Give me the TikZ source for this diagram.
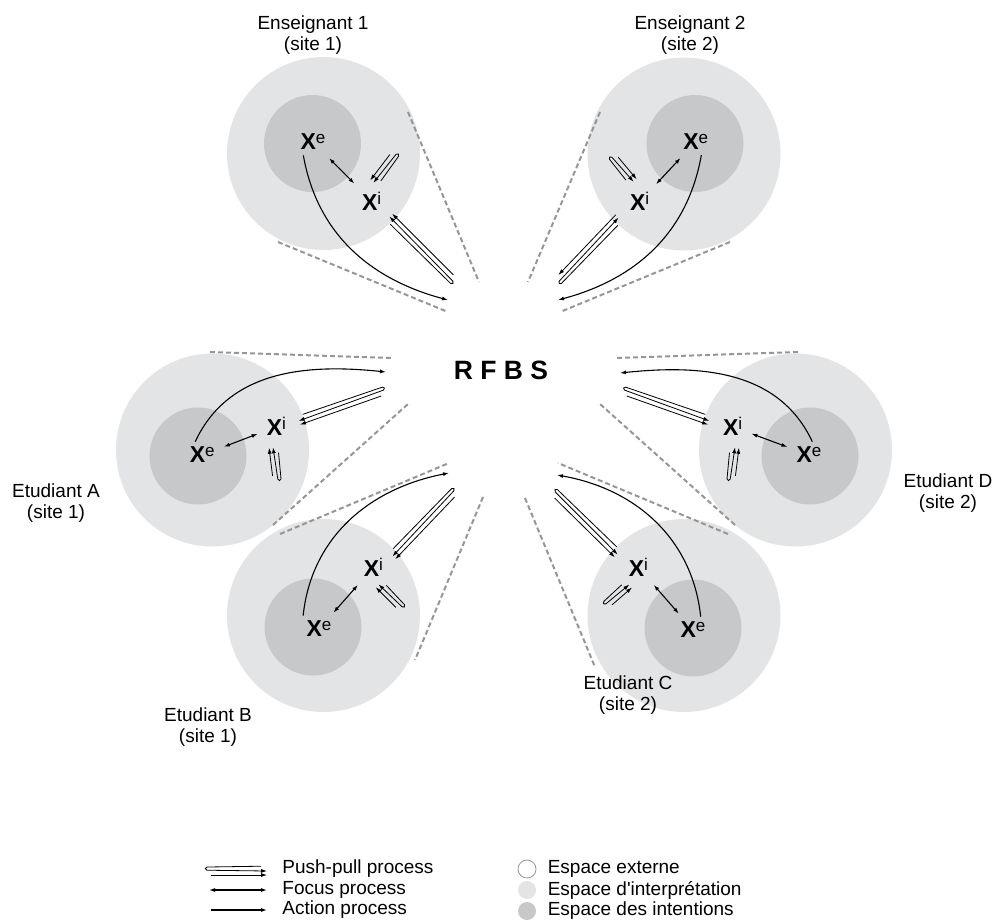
\documentclass[tikz,border=0pt]{standalone}
\usepackage{fontspec}
\setmainfont{Liberation Sans}
\usetikzlibrary{arrows.meta,positioning,calc}

\definecolor{interp}{RGB}{227,228,230}
\definecolor{intent}{RGB}{199,200,202}
\definecolor{conegray}{RGB}{150,150,150}

% X with a small raised letter
\newcommand{\Xs}[1]{{\bfseries X}\raisebox{3pt}{\fontsize{8.5}{9}\selectfont #1}}

% push-pull glyph: #1 loop end, #2 arrow end, #3 side (90 or -90), #4 tip of the straight line
\newcommand{\pushpull}[4]{%
  \coordinate (pp-u) at ($(#1)!1pt!(#2)-(#1)$);
  \coordinate (pp-m) at ($(#1)!1pt!#3:(#2)-(#1)$);
  \draw[pp line,->] ($(#2)+1.4*(pp-m)-3*(pp-u)$) -- ($(#1)+1.0*(pp-m)$)
    .. controls ($(#1)+1.0*(pp-m)-1.1*(pp-u)$) and ($(#1)-0.6*(pp-m)-1.1*(pp-u)$) .. ($(#1)-0.6*(pp-m)$)
    -- ($(#2)-1.0*(pp-m)$);
  \draw[pp line,#4] ($(#1)-3.0*(pp-m)+2*(pp-u)$) -- ($(#2)-3.0*(pp-m)$);
}

\begin{document}
\begin{tikzpicture}[x=0.5pt,y=-0.5pt,>={Latex[length=3pt,width=2pt]},
    outer/.style={circle,fill=interp,minimum size=96.5pt,inner sep=0pt},
    inner/.style={circle,fill=intent,minimum size=48.5pt,inner sep=0pt},
    xlab/.style={font=\fontsize{11.5}{12}\selectfont,inner sep=2.5pt},
    who/.style={align=center,font=\fontsize{9.5}{10.5}\selectfont},
    cone/.style={draw=conegray,line width=1pt,dash pattern=on 2.5pt off 1.5pt},
    action/.style={->,line width=0.55pt},
    focus/.style={<->,line width=0.55pt,shorten <=2pt,shorten >=2pt},
    pp line/.style={line width=0.4pt},
    legtext/.style={font=\fontsize{9.5}{10.5}\selectfont,inner sep=0pt}]
    \useasboundingbox (0,0) rectangle (995,923);

    % Enseignant 1
    \node[outer] (ens1out) at (323.5,153.5) {};
    \node[inner] (ens1in) at (312.5,143.5) {};
    \node[xlab] (ens1xe) at (313,142) {\Xs{e}};
    \node[xlab] (ens1xi) at (371.7,201) {\Xs{i}};
    \node[who] (ens1lab) at (313,35) {Enseignant 1\\(site 1)};
    \coordinate (ens1act) at (448,300);
    \coordinate (ens1ppa) at (397,155);
    \coordinate (ens1ppb) at (375,184);
    \coordinate (ens1ppc) at (452,282);
    \coordinate (ens1ppd) at (388,218);
    \draw[cone] (408,112) -- (479,282);
    \draw[cone] (278,242) -- (448,312);
    \draw[focus] (ens1xe) -- (ens1xi);
    \draw[action] (ens1xe.-126) to[out=-80,in=165] (ens1act);
    \pushpull{ens1ppa}{ens1ppb}{90}{->}
    \pushpull{ens1ppc}{ens1ppd}{90}{->}

    % Enseignant 2
    \node[outer] (ens2out) at (684,154) {};
    \node[inner] (ens2in) at (695,143.5) {};
    \node[xlab] (ens2xe) at (695.7,141.7) {\Xs{e}};
    \node[xlab] (ens2xi) at (639.7,201.7) {\Xs{i}};
    \node[who] (ens2lab) at (690,35) {Enseignant 2\\(site 2)};
    \coordinate (ens2act) at (558,300);
    \coordinate (ens2ppa) at (611,158);
    \coordinate (ens2ppb) at (632,183);
    \coordinate (ens2ppc) at (560,282);
    \coordinate (ens2ppd) at (620,219);
    \draw[cone] (600,112) -- (528,282);
    \draw[cone] (730,242) -- (560,312);
    \draw[focus] (ens2xe) -- (ens2xi);
    \draw[action] (ens2xe.-67) to[out=-100,in=15] (ens2act);
    \pushpull{ens2ppa}{ens2ppb}{-90}{->}
    \pushpull{ens2ppc}{ens2ppd}{-90}{<-}

    % Etudiant A
    \node[outer] (etAout) at (212.5,450) {};
    \node[inner] (etAin) at (198,456) {};
    \node[xlab] (etAxe) at (202.3,455) {\Xs{e}};
    \node[xlab] (etAxi) at (276.4,426.7) {\Xs{i}};
    \node[who] (etAlab) at (56,503) {Etudiant A\\(site 1)};
    \coordinate (etAact) at (386,372);
    \coordinate (etAppa) at (279,479);
    \coordinate (etAppb) at (275,447);
    \coordinate (etAppc) at (383,389);
    \coordinate (etAppd) at (298,419);
    \draw[cone] (210,352) -- (392,358);
    \draw[cone] (273,525) -- (408,404);
    \draw[focus] (etAxe) -- (etAxi);
    \draw[action] (etAxe.118) to[out=65,in=174] (etAact);
    \pushpull{etAppa}{etAppb}{-90}{->}
    \pushpull{etAppc}{etAppd}{-90}{->}

    % Etudiant D
    \node[outer] (etDout) at (795.5,450) {};
    \node[inner] (etDin) at (810,456) {};
    \node[xlab] (etDxe) at (809,455) {\Xs{e}};
    \node[xlab] (etDxi) at (732.7,426.7) {\Xs{i}};
    \node[who] (etDlab) at (948,493) {Etudiant D\\(site 2)};
    \coordinate (etDact) at (620,373);
    \coordinate (etDppa) at (729,479);
    \coordinate (etDppb) at (733,447);
    \coordinate (etDppc) at (625,389);
    \coordinate (etDppd) at (710,419);
    \draw[cone] (798,352) -- (616,358);
    \draw[cone] (735,525) -- (600,404);
    \draw[focus] (etDxe) -- (etDxi);
    \draw[action] (etDxe.76) to[out=115,in=6] (etDact);
    \pushpull{etDppa}{etDppb}{90}{->}
    \pushpull{etDppc}{etDppd}{90}{->}

    % Etudiant B
    \node[outer] (etBout) at (323.5,615.5) {};
    \node[inner] (etBin) at (313,627) {};
    \node[xlab] (etBxe) at (319,629) {\Xs{e}};
    \node[xlab] (etBxi) at (373.4,567.3) {\Xs{i}};
    \node[who] (etBlab) at (208,727) {Etudiant B\\(site 1)};
    \coordinate (etBact) at (449,473);
    \coordinate (etBppa) at (403,606);
    \coordinate (etBppb) at (380,583);
    \coordinate (etBppc) at (453,490);
    \coordinate (etBppd) at (391,555);
    \draw[cone] (280,534) -- (449,463);
    \draw[cone] (483,497) -- (415,660);
    \draw[focus] (etBxe) -- (etBxi);
    \draw[action] (etBxe.140) to[out=84,in=-169] (etBact);
    \pushpull{etBppa}{etBppb}{-90}{->}
    \pushpull{etBppc}{etBppd}{-90}{->}

    % Etudiant C
    \node[outer] (etCout) at (684,615.5) {};
    \node[inner] (etCin) at (693,628) {};
    \node[xlab] (etCxe) at (693,630) {\Xs{e}};
    \node[xlab] (etCxi) at (638.4,567.3) {\Xs{i}};
    \node[who] (etClab) at (628,695) {Etudiant C\\(site 2)};
    \coordinate (etCact) at (557,475);
    \coordinate (etCppa) at (605,603);
    \coordinate (etCppb) at (628,583);
    \coordinate (etCppc) at (556,491);
    \coordinate (etCppd) at (619,553);
    \draw[cone] (728,534) -- (558,463);
    \draw[cone] (525,498) -- (595,667);
    \draw[focus] (etCxe) -- (etCxi);
    \draw[action] (etCxe.60) to[out=96,in=-10] (etCact);
    \pushpull{etCppa}{etCppb}{90}{->}
    \pushpull{etCppc}{etCppd}{90}{->}

    % RFBS in the middle
    \node[font=\fontsize{13.25}{14}\selectfont\bfseries] (rfbs) at (501,370) {R F B S};

    % Legend, processes
    \coordinate (lgpa) at (207,869);
    \coordinate (lgpb) at (267,869);
    \coordinate (lgfa) at (209,890);
    \coordinate (lgfb) at (267,890);
    \coordinate (lgaa) at (211,910);
    \coordinate (lgab) at (267,910);
    \pushpull{lgpa}{lgpb}{90}{->}
    \draw[focus,shorten <=0pt,shorten >=0pt] (lgfa) -- (lgfb);
    \draw[action] (lgaa) -- (lgab);
    \node[legtext] (lgpush) [right=7.5pt of lgpb] {Push-pull process};
    \node[legtext] (lgfocus) [right=7.5pt of lgfb] {Focus process};
    \node[legtext] (lgaction) [right=7.5pt of lgab] {Action process};

    % Legend, spaces
    \node[circle,draw=conegray,fill=white,line width=0.4pt,minimum size=9pt,inner sep=0pt] (lgext) at (527,869) {};
    \node[circle,fill=interp,minimum size=9pt,inner sep=0pt] (lgint) at (527,890) {};
    \node[circle,fill=intent,minimum size=9pt,inner sep=0pt] (lgintent) at (527,911) {};
    \node[legtext] (lgexttext) [right=5.5pt of lgext] {Espace externe};
    \node[legtext] (lginttext) [right=5.5pt of lgint] {Espace d\textquotesingle interprétation};
    \node[legtext] (lgintenttext) [right=5.5pt of lgintent] {Espace des intentions};
\end{tikzpicture}
\end{document}
